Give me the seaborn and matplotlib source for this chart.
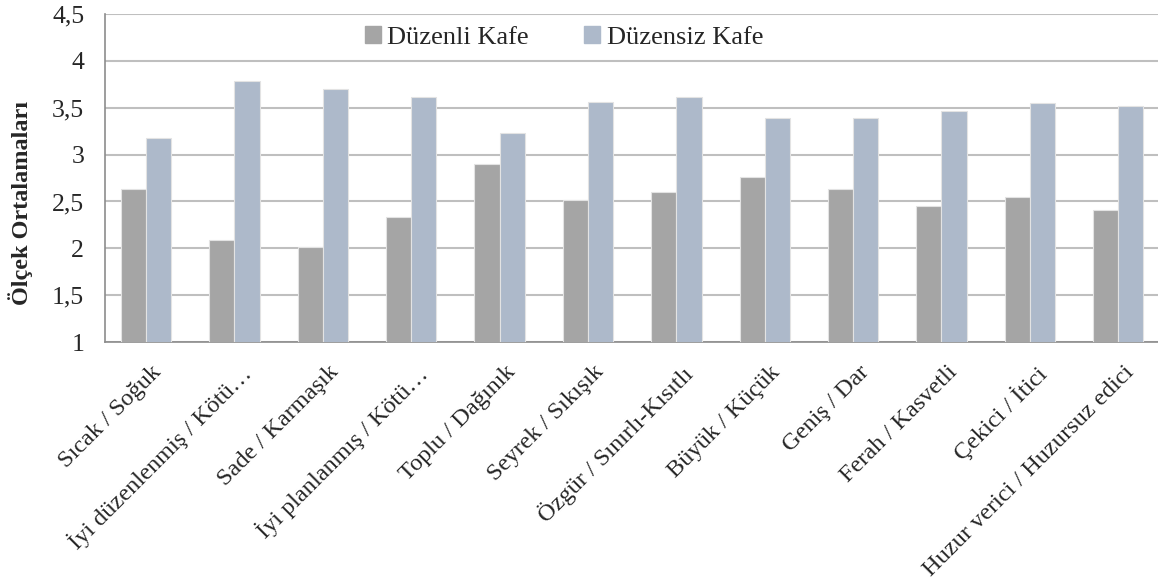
import numpy as np
import pandas as pd
import seaborn as sns
import matplotlib.pyplot as plt
import matplotlib.transforms as mtransforms

sns.set_style("white")
plt.rcParams['font.family'] = ['Liberation Serif', 'DejaVu Serif']

# data
categories = ['Sıcak / Soğuk', 'İyi düzenlenmiş / Kötü…', 'Sade / Karmaşık',
              'İyi planlanmış / Kötü…', 'Toplu / Dağınık', 'Seyrek / Sıkışık',
              'Özgür / Sınırlı-Kısıtlı', 'Büyük / Küçük', 'Geniş / Dar',
              'Ferah / Kasvetli', 'Çekici / İtici', 'Huzur verici / Huzursuz edici']
duzenli = [2.63, 2.09, 2.02, 2.33, 2.90, 2.52, 2.60, 2.76, 2.63, 2.45, 2.55, 2.41]
duzensiz = [3.18, 3.78, 3.70, 3.61, 3.23, 3.56, 3.61, 3.39, 3.39, 3.47, 3.55, 3.52]
series = ['Düzenli Kafe', 'Düzensiz Kafe']
colors = ['#A5A5A5', '#ADB9CA']
yticks = [1, 1.5, 2, 2.5, 3, 3.5, 4, 4.5]
ytick_labels = ['1', '1,5', '2', '2,5', '3', '3,5', '4', '4,5']

df = pd.DataFrame({
    'kategori': categories * 2,
    'seri': [series[0]] * len(categories) + [series[1]] * len(categories),
    'deger': duzenli + duzensiz,
})

fig = plt.figure(figsize=(11.58, 5.79), dpi=100)
ax = fig.add_axes([0.0907, 0.409, 0.9093, 0.567])

sns.barplot(data=df, x='kategori', y='deger', hue='seri', order=categories,
            hue_order=series, palette=colors, saturation=1, width=0.57,
            edgecolor='#E3E3E3', linewidth=0.8, ax=ax, legend=False, zorder=3)

ax.set_ylim(1, 4.5)
ax.set_xlim(-0.464, 11.45)
ax.set_yticks(yticks)
ax.set_yticklabels(ytick_labels, fontsize=18.5)
ax.yaxis.grid(True, color='#BFBFBF', linewidth=1.5, zorder=0)
ax.set_axisbelow(True)
ax.tick_params(axis='y', length=0, pad=15)
ax.tick_params(axis='x', length=0, pad=14)
ax.set_xticks(range(len(categories)))
ax.set_xticklabels(categories, rotation=45, ha='right', rotation_mode='anchor', fontsize=17.5)
# nudge rotated labels a little to the right
shift = mtransforms.ScaledTranslation(5 / 100, 0, fig.dpi_scale_trans)
for lab in ax.get_xticklabels():
    lab.set_transform(lab.get_transform() + shift)
ax.set_xlabel('')
ax.set_ylabel('Ölçek Ortalamaları', fontsize=17.5, fontweight='bold')
ax.yaxis.set_label_coords(-0.068, 0.424)

for side in ['top', 'right']:
    ax.spines[side].set_visible(False)
for side in ['left', 'bottom']:
    ax.spines[side].set_color('#8C8C8C')
    ax.spines[side].set_linewidth(1.2)

handles = [plt.Rectangle((0, 0), 1, 1, color=c) for c in colors]
fig.legend(handles, series, loc='center left', bbox_to_anchor=(0.306, 0.935),
           ncol=2, frameon=False, fontsize=19, handlelength=0.6, handleheight=0.6,
           handletextpad=0.25, columnspacing=2.1, borderaxespad=0)

fig.savefig('out.png', dpi=100)
